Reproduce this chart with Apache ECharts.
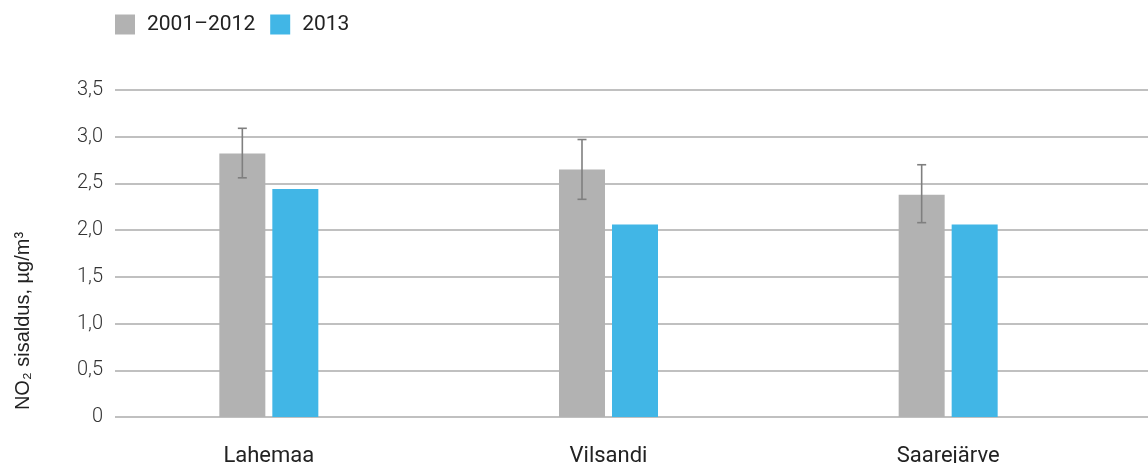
<!DOCTYPE html>
<html>
<head>
<meta charset="utf-8">
<script src="https://cdn.jsdelivr.net/npm/echarts@6/dist/echarts.min.js"></script>
<style>
  html, body { margin: 0; padding: 0; background: #fff; }
  #chart { width: 1148px; height: 463px; }
</style>
</head>
<body>
<div id="chart"></div>
<script>
// NO2 concentrations at background monitoring stations
const categories = ['Lahemaa', 'Vilsandi', 'Saarejärve'];
const seriesNames = ['2001–2012', '2013'];
const mean2001_2012 = [2.82, 2.65, 2.38];
const low2001_2012 = [2.56, 2.33, 2.08];
const high2001_2012 = [3.09, 2.97, 2.70];
const values2013 = [2.44, 2.06, 2.06];
const yTicks = { min: 0, max: 3.5, interval: 0.5 };

const GRAY = '#b2b2b2';
const BLUE = '#41b6e6';
const BAR_W = 46;
const BAR_GAP_PX = 7;
const FONT = 'Roboto, "Noto Sans", sans-serif';

const chart = echarts.init(document.getElementById('chart'));

const errorData = categories.map((c, i) => [i, low2001_2012[i], high2001_2012[i]]);

chart.setOption({
  animation: false,
  backgroundColor: '#ffffff',
  legend: {
    left: 115,
    top: 14,
    padding: 0,
    itemWidth: 20,
    itemHeight: 20,
    itemGap: 15,
    icon: 'rect',
    data: seriesNames,
    textStyle: { fontFamily: FONT, fontSize: 21, color: '#222', padding: [0, 0, 0, 7] }
  },
  grid: [
    { left: 99, right: 30, top: 90, bottom: 46, outerBoundsMode: 'none', containLabel: false },
    { left: 115, right: 0, top: 90, bottom: 46, outerBoundsMode: 'none', containLabel: false }
  ],
  xAxis: [
    {
      type: 'category',
      gridIndex: 0,
      data: categories,
      axisLine: { show: false },
      axisTick: { show: false },
      axisLabel: { fontFamily: FONT, fontSize: 22, color: '#222', margin: 28 }
    },
    { type: 'value', gridIndex: 1, show: false }
  ],
  yAxis: [
    { type: 'value', gridIndex: 0, min: yTicks.min, max: yTicks.max, interval: yTicks.interval, show: false },
    {
      type: 'value',
      gridIndex: 1,
      min: yTicks.min,
      max: yTicks.max,
      interval: yTicks.interval,
      axisLine: { show: false },
      axisTick: { show: false },
      splitLine: { lineStyle: { color: '#ababab', width: 1.5 } },
      axisLabel: {
        fontFamily: FONT,
        fontSize: 20,
        fontWeight: 300,
        color: '#333',
        margin: 12,
        formatter: v => v === 0 ? '0' : v.toFixed(1).replace('.', ',')
      }
    }
  ],
  graphic: [{
    type: 'text',
    x: 23,
    y: 321,
    rotation: Math.PI / 2,
    style: {
      text: 'NO₂ sisaldus, µg/m³',
      fontFamily: '"Liberation Sans", Arial, sans-serif',
      fontSize: 20,
      fill: '#222',
      align: 'center',
      verticalAlign: 'middle'
    }
  }],
  series: [
    {
      name: seriesNames[0],
      type: 'bar',
      xAxisIndex: 0,
      yAxisIndex: 0,
      data: mean2001_2012,
      barWidth: BAR_W,
      barGap: (BAR_GAP_PX / BAR_W * 100) + '%',
      itemStyle: { color: GRAY }
    },
    {
      name: seriesNames[1],
      type: 'bar',
      xAxisIndex: 0,
      yAxisIndex: 0,
      data: values2013,
      barWidth: BAR_W,
      itemStyle: { color: BLUE }
    },
    {
      // error bars on the 2001–2012 bars
      type: 'custom',
      xAxisIndex: 0,
      yAxisIndex: 0,
      data: errorData,
      encode: { x: 0, y: [1, 2] },
      z: 5,
      renderItem: (params, api) => {
        const idx = api.value(0);
        const lo = api.coord([idx, api.value(1)]);
        const hi = api.coord([idx, api.value(2)]);
        const x = lo[0] - (BAR_W + BAR_GAP_PX) / 2;
        const cap = 4.5;
        const style = { stroke: '#7f7f7f', lineWidth: 1.6, fill: null };
        return {
          type: 'group',
          children: [
            { type: 'line', shape: { x1: x, y1: hi[1], x2: x, y2: lo[1] }, style },
            { type: 'line', shape: { x1: x - cap, y1: hi[1], x2: x + cap, y2: hi[1] }, style },
            { type: 'line', shape: { x1: x - cap, y1: lo[1], x2: x + cap, y2: lo[1] }, style }
          ]
        };
      }
    }
  ]
});
</script>
</body>
</html>
